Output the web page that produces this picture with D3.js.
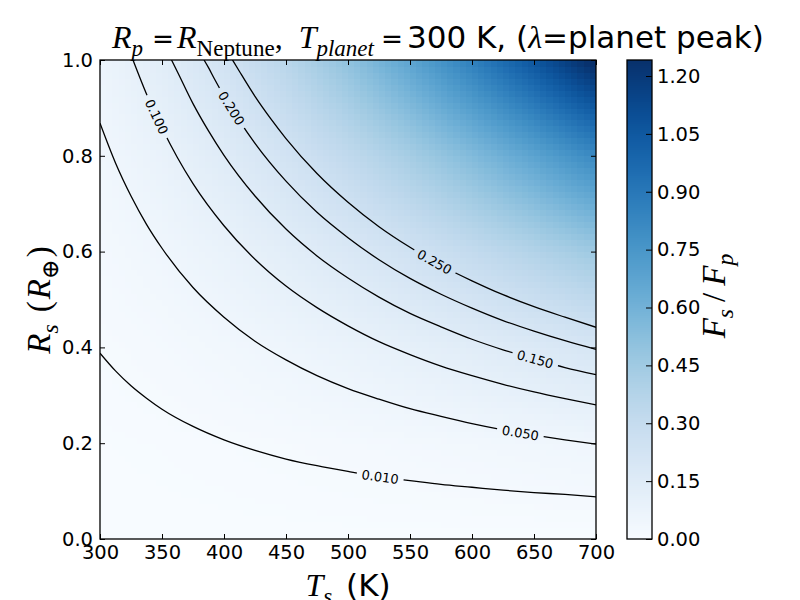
<!DOCTYPE html>
<html>
<head>
<meta charset="utf-8">
<script src="https://cdn.jsdelivr.net/npm/d3@7"></script>
<style>
  body { margin: 0; background: #fff; }
  text { font-family: "DejaVu Sans", sans-serif; }
</style>
</head>
<body>
<div class="container_main"></div>
<script>
// ---- data ----
// flux ratio Fs/Fp on a coarse grid (rows = Rs, columns = Ts)
const tsGrid = [300, 350, 400, 450, 500, 550, 600, 650, 700];
const rsGrid = [0.0, 0.2, 0.4, 0.6, 0.8, 1.0];
const fluxRows = [
  [0, 0, 0, 0, 0, 0, 0, 0, 0],
  [0.0027, 0.0054, 0.0093, 0.0143, 0.0202, 0.0270, 0.0344, 0.0425, 0.0511],
  [0.0106, 0.0217, 0.0374, 0.0573, 0.0810, 0.1080, 0.1378, 0.1700, 0.2044],
  [0.0239, 0.0489, 0.0841, 0.1289, 0.1822, 0.2429, 0.3100, 0.3826, 0.4599],
  [0.0425, 0.0870, 0.1496, 0.2292, 0.3239, 0.4319, 0.5512, 0.6802, 0.8175],
  [0.0664, 0.1359, 0.2337, 0.3581, 0.5061, 0.6748, 0.8612, 1.0628, 1.2774]
];
const colorMax = 1.2415;

// contour lines, [Ts, Rs] points
const contour010 = [[300,.388],[312.5,.351],[325,.320],[337.5,.294],[350,.271],[375,.235],[400,.207],[425,.185],[450,.167],[475,.153],[500,.141],[525,.130],[550,.122],[575,.114],[600,.108],[625,.102],[650,.097],[675,.093],[700,.088]];
const contour050 = [[300,.868],[312.5,.785],[325,.716],[337.5,.657],[350,.607],[375,.525],[400,.463],[425,.413],[450,.374],[475,.341],[500,.314],[525,.292],[550,.272],[575,.256],[600,.241],[625,.228],[650,.217],[675,.207],[700,.198]];
const contour100 = [[326.6,1.0],[337.5,.929],[350,.858],[362.5,.796],[375,.742],[400,.654],[425,.584],[450,.528],[475,.483],[500,.445],[525,.412],[550,.385],[575,.361],[600,.341],[625,.323],[650,.307],[675,.293],[700,.280]];
const contour150 = [[357.7,1.0],[362.5,.975],[375,.909],[387.5,.852],[400,.801],[425,.716],[450,.647],[475,.591],[500,.545],[525,.505],[550,.471],[575,.443],[600,.417],[625,.395],[650,.376],[675,.358],[700,.343]];
const contour200 = [[383.9,1.0],[387.5,.984],[392,.962],[400,.925],[412.5,.873],[425,.826],[450,.747],[475,.682],[500,.629],[525,.583],[550,.544],[575,.511],[600,.482],[625,.456],[650,.434],[675,.414],[700,.396]];
const contour250 = [[406.9,1.0],[412.5,.976],[425,.924],[437.5,.878],[450,.836],[475,.763],[500,.703],[525,.652],[550,.609],[575,.571],[600,.539],[625,.510],[650,.485],[675,.463],[700,.442]];
const contourLevels = [0.010, 0.050, 0.100, 0.150, 0.200, 0.250];
const contourLines = [contour010, contour050, contour100, contour150, contour200, contour250];
// where the inline labels sit (Ts)
const labelTs = [526, 639, 345.7, 651, 406, 570];

const xTicks = [300, 350, 400, 450, 500, 550, 600, 650, 700];
const yTicks = [0.0, 0.2, 0.4, 0.6, 0.8, 1.0];
const cbTicks = [0.00, 0.15, 0.30, 0.45, 0.60, 0.75, 0.90, 1.05, 1.20];

// ---- build the svg ----
const svg = d3.select('.container_main')
  .append("svg")
  .attr("width", 800)
  .attr("height", 600);

const posX = d3.scaleLinear().domain([300, 700]).range([100, 596]);
const posY = d3.scaleLinear().domain([0, 1]).range([539, 60]);
const color = d3.scaleSequential(d3.interpolateBlues).domain([0, colorMax]).clamp(true);

// bilinear lookup in the grid, used to paint the heatmap cells
function fluxAt(ts, rs) {
  let i = Math.max(0, Math.min(tsGrid.length - 2, d3.bisectRight(tsGrid, ts) - 1));
  let j = Math.max(0, Math.min(rsGrid.length - 2, d3.bisectRight(rsGrid, rs) - 1));
  const tx = (ts - tsGrid[i]) / (tsGrid[i + 1] - tsGrid[i]);
  const ty = (rs - rsGrid[j]) / (rsGrid[j + 1] - rsGrid[j]);
  const a = fluxRows[j][i], b = fluxRows[j][i + 1];
  const c = fluxRows[j + 1][i], d = fluxRows[j + 1][i + 1];
  return a * (1 - tx) * (1 - ty) + b * tx * (1 - ty) + c * (1 - tx) * ty + d * tx * ty;
}

const defs = svg.append("defs");
defs.append("clipPath").attr("id", "plotClip")
  .append("rect").attr("x", 100).attr("y", 60).attr("width", 496).attr("height", 479);
const gapMask = defs.append("mask").attr("id", "gapMask")
  .attr("maskUnits", "userSpaceOnUse")
  .attr("x", 0).attr("y", 0).attr("width", 800).attr("height", 600);
gapMask.append("rect").attr("x", 0).attr("y", 0).attr("width", 800).attr("height", 600).attr("fill", "#fff");

// heatmap
const nx = 80, ny = 80;
const dTs = 400 / nx, dRs = 1 / ny;
const cells = [];
d3.range(nx).forEach(ix => d3.range(ny).forEach(iy => cells.push({ix: ix, iy: iy})));
svg.append("g")
  .attr("clip-path", "url(#plotClip)")
  .selectAll("rect")
  .data(cells)
  .enter().append("rect")
    .attr("x", d => posX(300 + d.ix * dTs))
    .attr("y", d => posY((d.iy + 1) * dRs))
    .attr("width", posX(300 + dTs) - posX(300) + 0.6)
    .attr("height", posY(0) - posY(dRs) + 0.6)
    .attr("fill", d => color(fluxAt(300 + (d.ix + 0.5) * dTs, (d.iy + 0.5) * dRs)))
    .attr("shape-rendering", "crispEdges");

// contours
const line = d3.line()
  .x(d => posX(d[0]))
  .y(d => posY(d[1]))
  .curve(d3.curveMonotoneX);

const contourG = svg.append("g").attr("clip-path", "url(#plotClip)");
const contourInner = contourG.append("g").attr("mask", "url(#gapMask)");
const paths = contourInner.selectAll("path")
  .data(contourLines)
  .enter().append("path")
    .attr("d", line)
    .attr("fill", "none")
    .attr("stroke", "#000")
    .attr("stroke-width", 1.3);

function pointAtX(path, px) {
  const L = path.getTotalLength();
  let best = 0, bd = Infinity;
  for (let s = 0; s <= L; s += 0.5) {
    const p = path.getPointAtLength(s);
    const dd = Math.abs(p.x - px);
    if (dd < bd) { bd = dd; best = s; }
  }
  const p = path.getPointAtLength(best);
  const p0 = path.getPointAtLength(Math.max(0, best - 6));
  const p1 = path.getPointAtLength(Math.min(L, best + 6));
  return {x: p.x, y: p.y, ang: Math.atan2(p1.y - p0.y, p1.x - p0.x) * 180 / Math.PI};
}

const labelG = svg.append("g");
paths.each(function(d, k) {
  const pt = pointAtX(this, posX(labelTs[k]));
  const tr = "translate(" + pt.x + "," + pt.y + ") rotate(" + pt.ang + ")";
  const t = labelG.append("text")
    .attr("transform", tr)
    .attr("text-anchor", "middle")
    .attr("dy", "0.36em")
    .attr("font-size", 13)
    .text(d3.format(".3f")(contourLevels[k]));
  const w = t.node().getComputedTextLength();
  gapMask.append("rect")
    .attr("transform", tr)
    .attr("x", -w / 2 - 5).attr("y", -9)
    .attr("width", w + 10).attr("height", 18)
    .attr("fill", "#000");
});

// axes, ticks inward on all four sides
const fs = 19.5;
svg.append("g")
  .attr("transform", "translate(0,539)")
  .call(d3.axisBottom(posX).tickValues(xTicks).tickSizeInner(-5).tickSizeOuter(0).tickPadding(6))
  .call(g => g.select(".domain").remove())
  .selectAll("text").attr("font-size", fs).attr("fill", "#000").attr("font-family", "DejaVu Sans");
svg.append("g")
  .attr("transform", "translate(0,60)")
  .call(d3.axisTop(posX).tickValues(xTicks).tickSizeInner(-5).tickSizeOuter(0).tickFormat(""))
  .call(g => g.select(".domain").remove());
svg.append("g")
  .attr("transform", "translate(100,0)")
  .call(d3.axisLeft(posY).tickValues(yTicks).tickFormat(d3.format(".1f")).tickSizeInner(-5).tickSizeOuter(0).tickPadding(7))
  .call(g => g.select(".domain").remove())
  .selectAll("text").attr("font-size", fs).attr("fill", "#000").attr("font-family", "DejaVu Sans");
svg.append("g")
  .attr("transform", "translate(596,0)")
  .call(d3.axisRight(posY).tickValues(yTicks).tickSizeInner(-5).tickSizeOuter(0).tickFormat(""))
  .call(g => g.select(".domain").remove());
svg.selectAll(".tick line").attr("stroke", "#000").attr("stroke-width", 1);

svg.append("rect")
  .attr("x", 100).attr("y", 60).attr("width", 496).attr("height", 479)
  .attr("fill", "none").attr("stroke", "#000").attr("stroke-width", 1.3);

// colorbar
const cbY = d3.scaleLinear().domain([0, colorMax]).range([539, 60]);
const cbSteps = d3.range(0, 240);
svg.append("g").selectAll("rect")
  .data(cbSteps)
  .enter().append("rect")
    .attr("x", 627)
    .attr("width", 25)
    .attr("y", d => cbY((d + 1) * colorMax / 240))
    .attr("height", d => cbY(d * colorMax / 240) - cbY((d + 1) * colorMax / 240) + 0.5)
    .attr("fill", d => color((d + 0.5) * colorMax / 240))
    .attr("shape-rendering", "crispEdges");
svg.append("g")
  .attr("transform", "translate(652,0)")
  .call(d3.axisRight(cbY).tickValues(cbTicks).tickFormat(d3.format(".2f")).tickSizeInner(-6).tickSizeOuter(0).tickPadding(5))
  .call(g => g.select(".domain").remove())
  .call(g => g.selectAll("line").attr("stroke", "#000"))
  .selectAll("text").attr("font-size", fs).attr("fill", "#000").attr("font-family", "DejaVu Sans");
svg.append("rect")
  .attr("x", 627).attr("y", 60).attr("width", 25).attr("height", 479)
  .attr("fill", "none").attr("stroke", "#000").attr("stroke-width", 1.3);

// math-ish text helper: i = serif italic, r = serif upright, s = sans, e = wide equals sign
// dx lets me nudge the mathtext spacing
function mathText(sel, parts, size, sansSize) {
  let sub = false;
  parts.forEach(p => {
    const ts = sel.append("tspan").text(p.t);
    if (p.f === "s" || p.f === "e") ts.attr("font-family", "DejaVu Sans");
    else ts.attr("font-family", "Liberation Serif, DejaVu Serif, serif");
    if (p.f === "i") ts.attr("font-style", "italic");
    const isSub = !!p.sub;
    let base = size;
    if (p.f === "s") base = sansSize || size;
    if (p.f === "e") base = size * 0.82;
    ts.attr("font-size", isSub ? size * 0.72 : base);
    let dy = 0;
    if (isSub && !sub) dy = size * 0.24;
    if (!isSub && sub) dy = -size * 0.24;
    if (dy) ts.attr("dy", dy);
    if (p.dx) ts.attr("dx", p.dx);
    sub = isSub;
  });
}

// title
const title = svg.append("text").attr("x", 112).attr("y", 48).attr("fill", "#000");
mathText(title, [
  {t: "R", f: "i"}, {t: "p", f: "i", sub: 1}, {t: "=", f: "e", dx: 9},
  {t: "R", f: "i", dx: 3}, {t: "Neptune", f: "r", sub: 1}, {t: ",", f: "r"},
  {t: "T", f: "i", dx: 16}, {t: "planet", f: "i", sub: 1}, {t: "=", f: "e", dx: 7},
  {t: "300 K, (", f: "s", dx: 4}, {t: "\u03bb", f: "i"}, {t: "=planet peak)", f: "s"}
], 32, 31);

// x label
const xl = svg.append("text").attr("x", 348).attr("y", 596).attr("text-anchor", "middle").attr("fill", "#000");
mathText(xl, [{t: "T", f: "i"}, {t: "s", f: "i", sub: 1}, {t: " (K)", f: "s", dx: 4}], 32, 31);

// y label
const yl = svg.append("text").attr("transform", "translate(50,300) rotate(-90)").attr("text-anchor", "middle").attr("fill", "#000");
mathText(yl, [{t: "R", f: "i"}, {t: "s", f: "i", sub: 1}, {t: "(", f: "r", dx: 12}, {t: "R", f: "i", dx: 2}, {t: "\u2295", f: "r", sub: 1}, {t: ")", f: "r", dx: 2}], 33);

// colorbar label
const cl = svg.append("text").attr("transform", "translate(725,296) rotate(-90)").attr("text-anchor", "middle").attr("fill", "#000");
mathText(cl, [{t: "F", f: "i"}, {t: "s", f: "i", sub: 1}, {t: "/", f: "r", dx: 7}, {t: "F", f: "i", dx: 7}, {t: "p", f: "i", sub: 1}], 33);
</script>
</body>
</html>
